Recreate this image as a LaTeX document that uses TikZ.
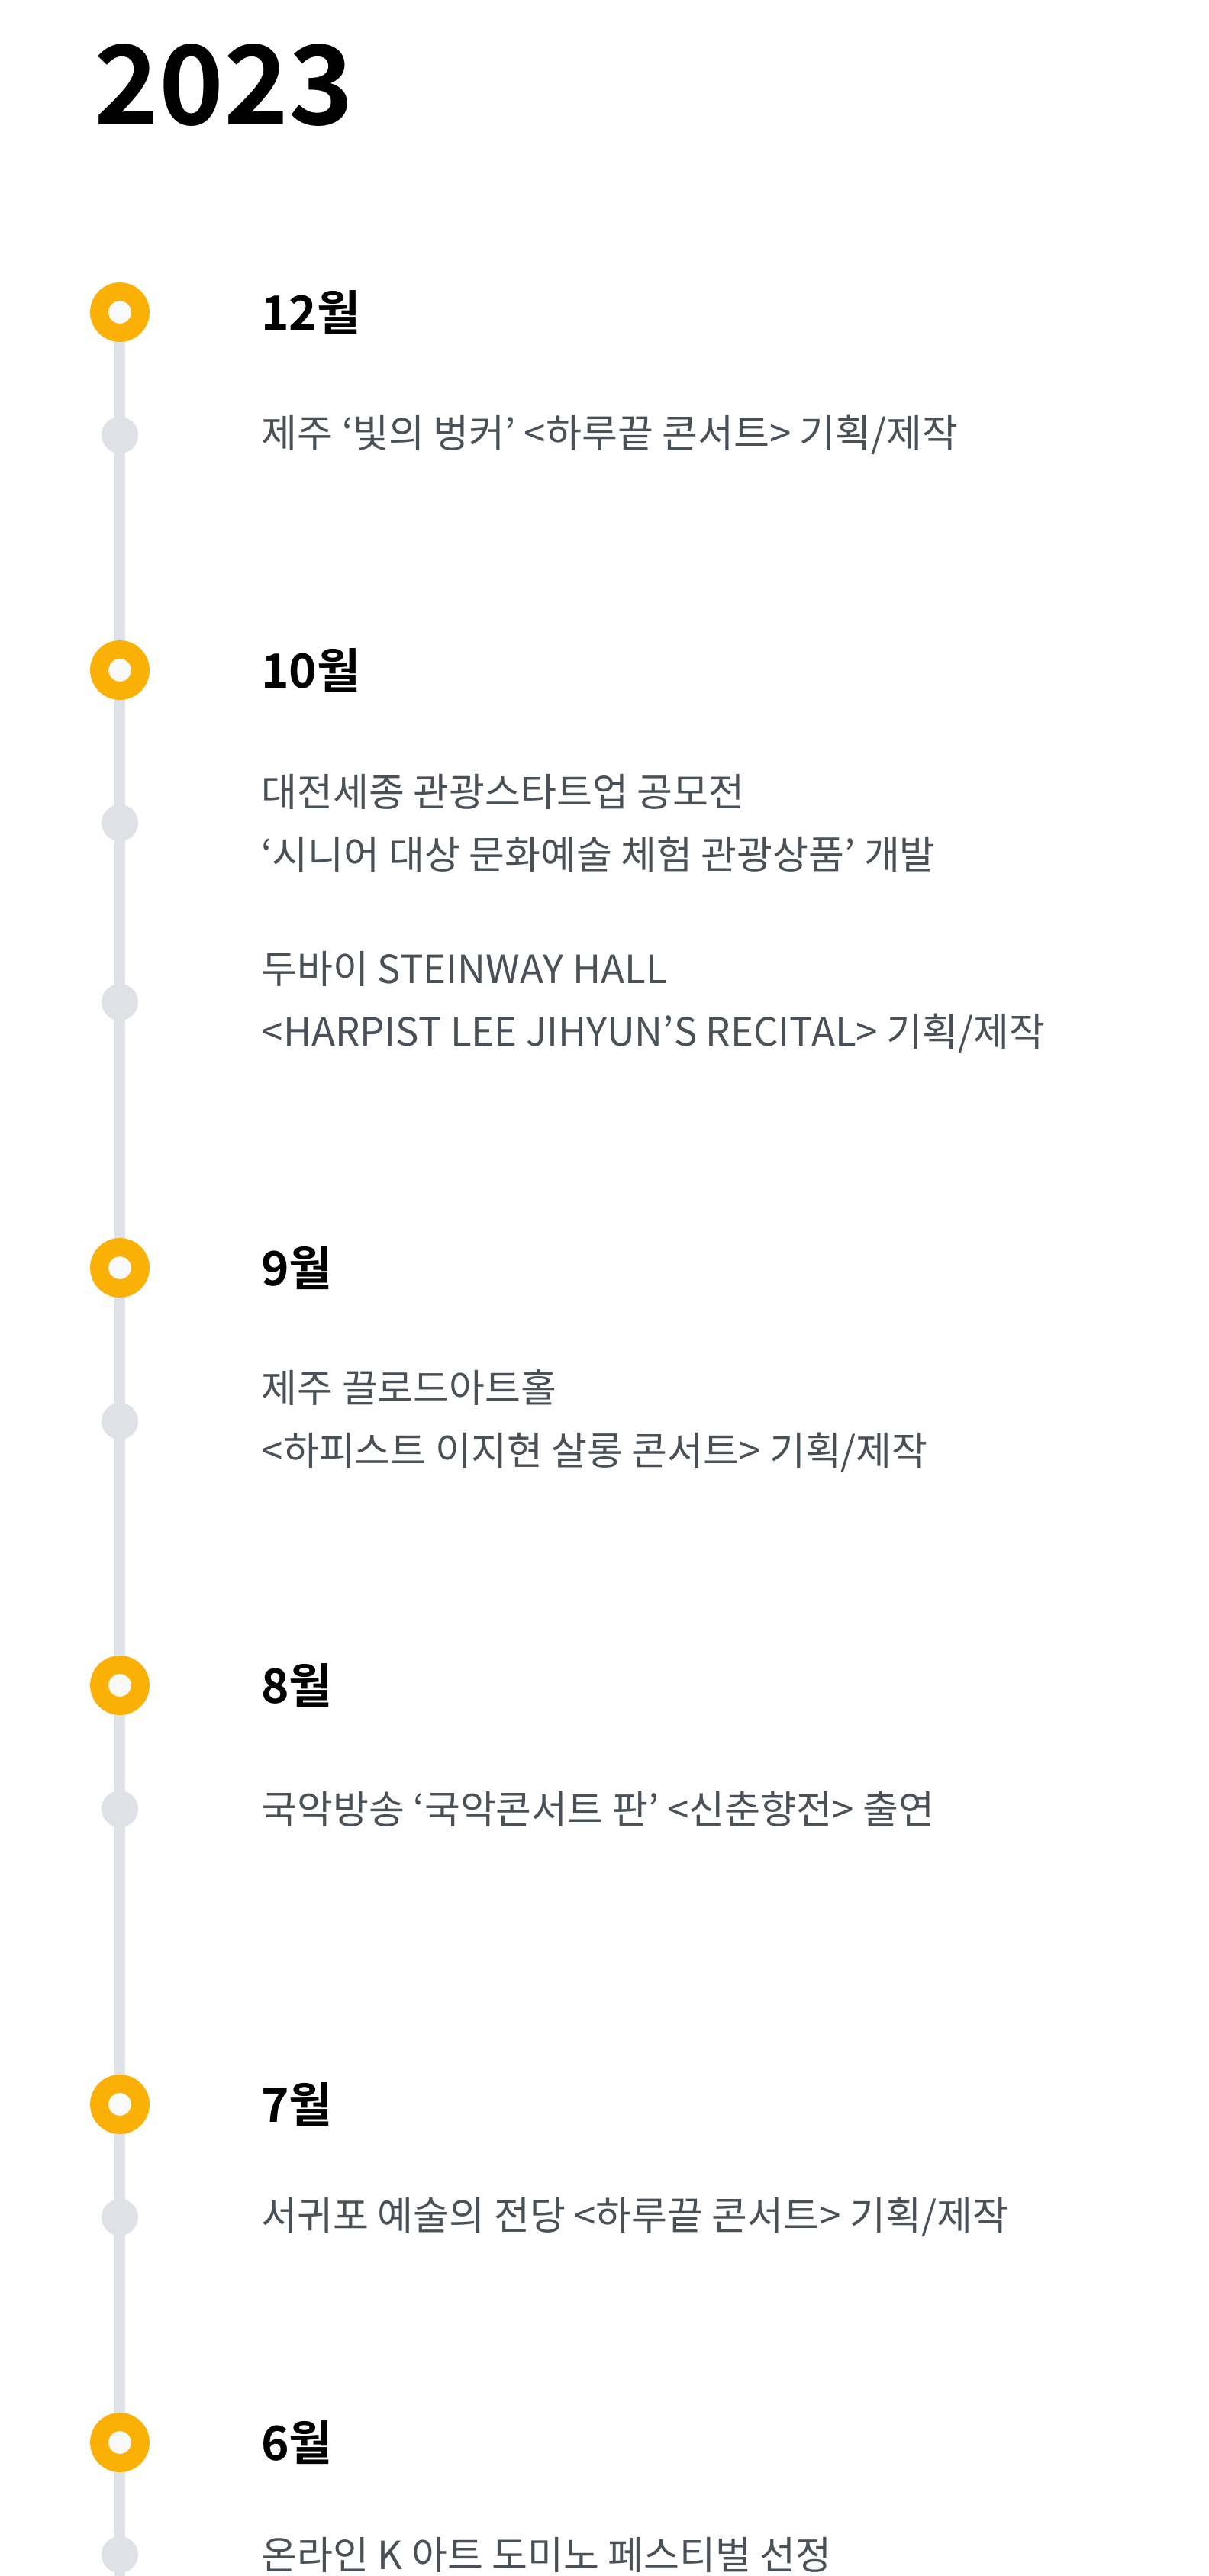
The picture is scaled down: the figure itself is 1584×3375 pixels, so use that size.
\documentclass[tikz,border=0pt]{standalone}
\usepackage{fontspec}
\setmainfont{Noto Sans CJK KR}[BoldFont={Noto Sans CJK KR Bold}]
\usetikzlibrary{positioning}
\definecolor{tlorange}{HTML}{FAB005}
\definecolor{tltrack}{HTML}{DEE2E6}
\definecolor{tltext}{HTML}{495057}
\definecolor{tlinner}{HTML}{F8F9FA}

\begin{document}
\begin{tikzpicture}[x=0.5pt, y=-0.5pt,
  track/.style={draw=tltrack, line width=7pt},
  monthdot/.style={circle, draw=tlorange, line width=12pt, fill=tlinner,
                   minimum size=27pt, inner sep=0pt},
  itemdot/.style={circle, fill=tltrack, minimum size=24pt, inner sep=0pt},
  yearlabel/.style={anchor=base west, inner sep=0pt, font=\fontsize{72}{80}\selectfont\bfseries},
  monthlabel/.style={inner sep=0pt, font=\fontsize{31}{38}\selectfont\bfseries},
  itemtext/.style={inner sep=0pt, align=left, text=tltext, font=\fontsize{25.5}{41}\selectfont}
]
  \useasboundingbox[fill=white] (0,0) rectangle (1584,3375);
  \node[yearlabel] (year) at (123,163) {2023};

  % timeline track
  \coordinate (tracktop) at (157,409);
  \coordinate (trackend) at (157,3375);
  \draw[track] (tracktop) -- (trackend);

  % 12
  \node[monthdot] (dec) at (157,409) {};
  \node[monthlabel, right=73pt of dec] (decl) {12월};
  \node[itemdot] (dec1) at (157,570) {};
  \node[itemtext, right=80.5pt of dec1] (dec1t) {제주 ‘빛의 벙커’ <하루끝 콘서트> 기획/제작};

  % 10
  \node[monthdot] (oct) at (157,878) {};
  \node[monthlabel, right=73pt of oct] (octl) {10월};
  \node[itemdot] (oct1) at (157,1078) {};
  \node[itemtext, right=80.5pt of oct1] (oct1t) {대전세종 관광스타트업 공모전\\‘시니어 대상 문화예술 체험 관광상품’ 개발};
  \node[itemdot] (oct2) at (157,1313) {};
  \node[itemtext, right=80.5pt of oct2] (oct2t) {두바이 STEINWAY HALL\\<HARPIST LEE JIHYUN’S RECITAL> 기획/제작};

  % 9
  \node[monthdot] (sep) at (157,1661) {};
  \node[monthlabel, right=73pt of sep] (sepl) {9월};
  \node[itemdot] (sep1) at (157,1862) {};
  \node[itemtext, right=80.5pt of sep1] (sep1t) {제주 끌로드아트홀\\<하피스트 이지현 살롱 콘서트> 기획/제작};

  % 8
  \node[monthdot] (aug) at (157,2208) {};
  \node[monthlabel, right=73pt of aug] (augl) {8월};
  \node[itemdot] (aug1) at (157,2370) {};
  \node[itemtext, right=80.5pt of aug1] (aug1t) {국악방송 ‘국악콘서트 판’ <신춘향전> 출연};

  % 7
  \node[monthdot] (jul) at (157,2757) {};
  \node[monthlabel, right=73pt of jul] (jull) {7월};
  \node[itemdot] (jul1) at (157,2905) {};
  \node[itemtext, right=80.5pt of jul1] (jul1t) {서귀포 예술의 전당 <하루끝 콘서트> 기획/제작};

  % 6
  \node[monthdot] (jun) at (157,3200) {};
  \node[monthlabel, right=73pt of jun] (junl) {6월};
  \node[itemdot] (jun1) at (157,3347) {};
  \node[itemtext, right=80.5pt of jun1] (jun1t) {온라인 K 아트 도미노 페스티벌 선정};
\end{tikzpicture}
\end{document}
